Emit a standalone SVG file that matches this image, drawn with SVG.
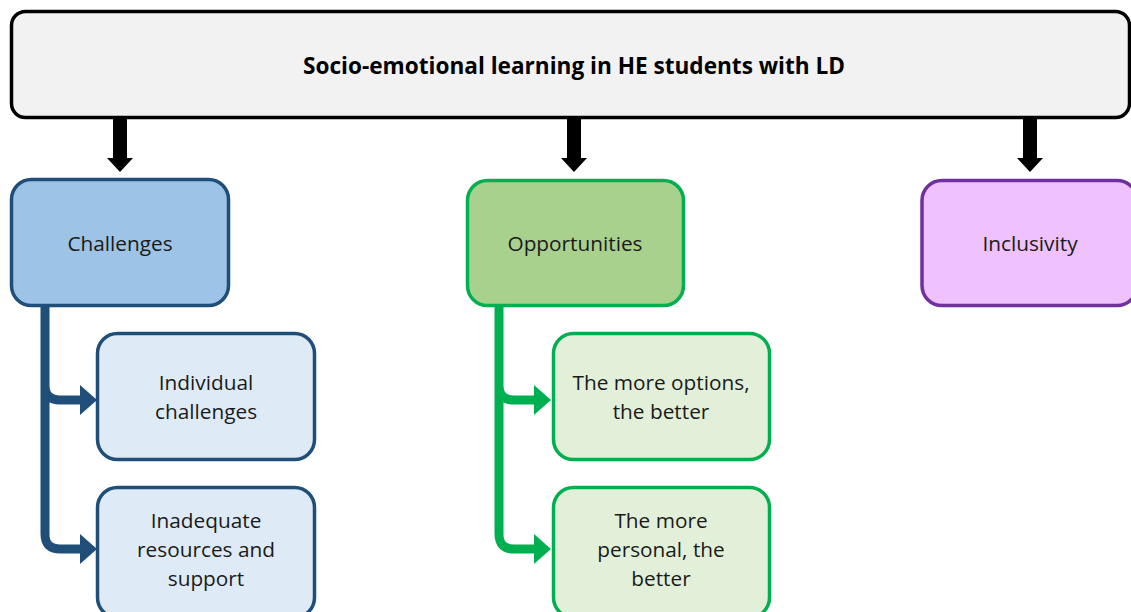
<svg xmlns="http://www.w3.org/2000/svg" width="1131" height="612" viewBox="0 0 1131 612">
<style>
text{font-family:"Open Sans","Noto Sans",sans-serif;font-size:20.8px;fill:#1a1a1a;text-anchor:middle}
.title{font-weight:bold;font-size:22.6px;fill:#000}
.blue{fill:#9dc3e6;stroke:#1f4e79;stroke-width:3.5}
.blue2{fill:#deebf7;stroke:#1f4e79;stroke-width:3.5}
.green{fill:#a9d18e;stroke:#00b050;stroke-width:3.5}
.green2{fill:#e2f0d9;stroke:#00b050;stroke-width:3.5}
.purple{fill:#efc1fd;stroke:#7030a0;stroke-width:3.5}
.lb{fill:none;stroke:#1f4e79;stroke-width:9}
.lg{fill:none;stroke:#00b050;stroke-width:9}
</style>
<rect width="1131" height="612" fill="#fff"/>
<g id="root">
<rect x="11.5" y="11.5" width="1118" height="106" rx="14" fill="#f2f2f2" stroke="#000" stroke-width="3.5"/>
<text class="title" x="574" y="74">Socio-emotional learning in HE students with LD</text>
</g>
<g id="connectors">
<polygon points="113,118 127,118 127,158 133,158 120,172 107,158 113,158" fill="#000"/>
<polygon points="567,118 581,118 581,158 587,158 574,172 561,158 567,158" fill="#000"/>
<polygon points="1023,118 1037,118 1037,158 1043,158 1030,172 1017,158 1023,158" fill="#000"/>
<path class="lb" d="M45 306 V534 Q45 549 60 549 H82 M45 385 Q45 400 60 400 H82"/>
<polygon points="80,385 97,400 80,415" fill="#1f4e79"/>
<polygon points="80,534 97,549 80,564" fill="#1f4e79"/>
<path class="lg" d="M499 306 V534 Q499 549 514 549 H536 M499 385 Q499 400 514 400 H536"/>
<polygon points="534,385 551,400 534,415" fill="#00b050"/>
<polygon points="534,534 551,549 534,564" fill="#00b050"/>
</g>
<g id="challenges">
<rect class="blue" x="11.5" y="179.5" width="217" height="126" rx="20"/>
<text x="120" y="251">Challenges</text>
</g>
<g id="opportunities">
<rect class="green" x="467.5" y="180.5" width="216" height="125" rx="20"/>
<text x="575" y="251">Opportunities</text>
</g>
<g id="inclusivity">
<rect class="purple" x="922" y="180.5" width="215" height="125" rx="20"/>
<text x="1030" y="251">Inclusivity</text>
</g>
<g id="individual">
<rect class="blue2" x="97.5" y="333.5" width="217" height="126" rx="20"/>
<text x="206" y="390">Individual</text>
<text x="206" y="419">challenges</text>
</g>
<g id="inadequate">
<rect class="blue2" x="97.5" y="487.5" width="217" height="130" rx="20"/>
<text x="206" y="528">Inadequate</text>
<text x="206" y="557">resources and</text>
<text x="206" y="586">support</text>
</g>
<g id="options">
<rect class="green2" x="553.5" y="333.5" width="216" height="126" rx="20"/>
<text x="661" y="390">The more options,</text>
<text x="661" y="419">the better</text>
</g>
<g id="personal">
<rect class="green2" x="553.5" y="487.5" width="216" height="130" rx="20"/>
<text x="661" y="528">The more</text>
<text x="661" y="557">personal, the</text>
<text x="661" y="586">better</text>
</g>
</svg>
